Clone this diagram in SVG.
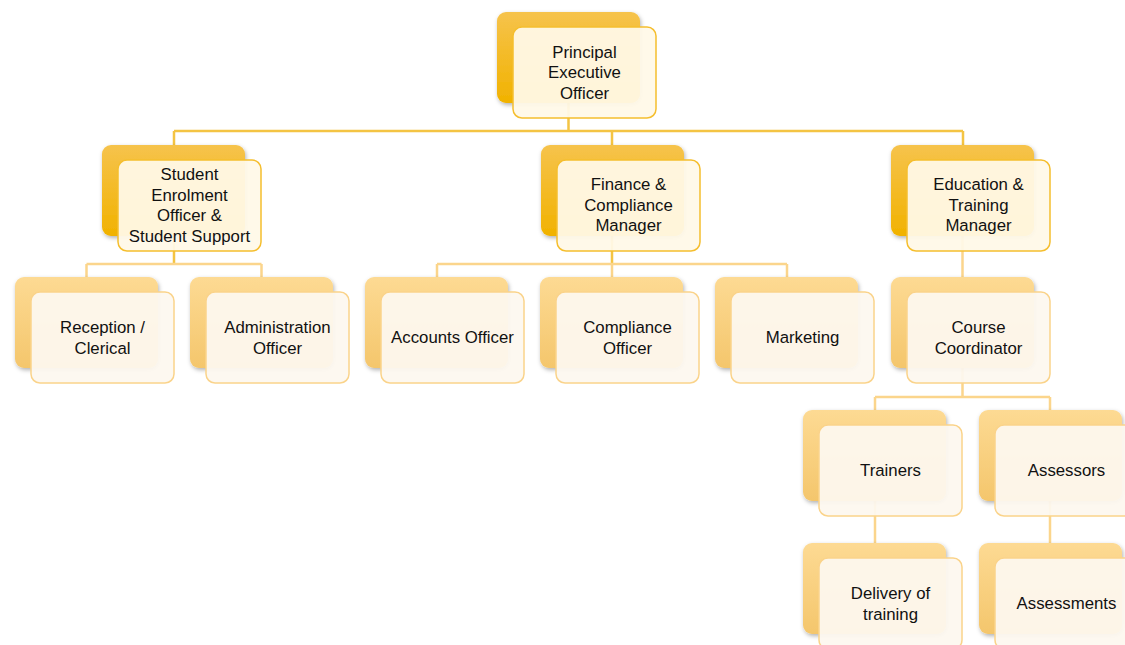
<svg xmlns="http://www.w3.org/2000/svg" width="1125" height="645" viewBox="0 0 1125 645">
<defs>
<linearGradient id="gA" x1="0" y1="0" x2="0" y2="1"><stop offset="0" stop-color="#F6C34C"/><stop offset="1" stop-color="#F1B200"/></linearGradient>
<linearGradient id="gB" x1="0" y1="0" x2="0" y2="1"><stop offset="0" stop-color="#FDDA93"/><stop offset="1" stop-color="#F4C66C"/></linearGradient>
<filter id="sh" x="-10%" y="-10%" width="130%" height="130%"><feDropShadow dx="1" dy="2" stdDeviation="2" flood-color="#000" flood-opacity="0.3"/></filter>
</defs>
<style>
.bA{fill:url(#gA);filter:url(#sh)}
.bB{fill:url(#gB);filter:url(#sh)}
.fA{fill:#FFF9E8;fill-opacity:0.94;stroke:#F5BE2E;stroke-width:1.5}
.fB{fill:#FDF8EF;fill-opacity:0.94;stroke:#FAD38A;stroke-width:1.5}
.cA{fill:none;stroke:#F4C443;stroke-width:2.5}
.cB{fill:none;stroke:#FBD58C;stroke-width:2.5}
text{font-family:"Liberation Sans",Arial,sans-serif;font-size:16.8px;fill:#111;text-anchor:middle}
</style>
<g id="connectors">
<path class="cA" d="M568.5,103 V131 M174,131 H963 M174,131 V145 M612,131 V145 M963,131 V145"/>
<path class="cA" d="M174,236 V264 M612,236 V264"/>
<path class="cB" d="M86.5,264 H261.5 M86.5,264 V277 M261.5,264 V277"/>
<path class="cB" d="M437,264 H787 M437,264 V277 M612,264 V277 M787,264 V277"/>
<path class="cB" d="M962.5,236 V277"/>
<path class="cB" d="M962.5,368 V397 M875,397 H1050 M875,397 V410 M1050,397 V410"/>
<path class="cB" d="M875,501 V543 M1050,501 V543"/>
</g>
<g id="peo"><rect class="bA" x="497" y="12" width="143" height="91" rx="9"/><rect class="fA" x="513" y="27" width="143" height="91" rx="9"/>
<text x="584.5" y="57.5">Principal</text><text x="584.5" y="78">Executive</text><text x="584.5" y="98.5">Officer</text></g>
<g id="student"><rect class="bA" x="102" y="145" width="143" height="91" rx="9"/><rect class="fA" x="118" y="160" width="143" height="91" rx="9"/>
<text x="189.5" y="180">Student</text><text x="189.5" y="200.5">Enrolment</text><text x="189.5" y="221">Officer &amp;</text><text x="189.5" y="241.5">Student Support</text></g>
<g id="finance"><rect class="bA" x="541" y="145" width="143" height="91" rx="9"/><rect class="fA" x="557" y="160" width="143" height="91" rx="9"/>
<text x="628.5" y="190">Finance &amp;</text><text x="628.5" y="210.5">Compliance</text><text x="628.5" y="231">Manager</text></g>
<g id="education"><rect class="bA" x="891" y="145" width="143" height="91" rx="9"/><rect class="fA" x="907" y="160" width="143" height="91" rx="9"/>
<text x="978.5" y="190">Education &amp;</text><text x="978.5" y="210.5">Training</text><text x="978.5" y="231">Manager</text></g>
<g id="reception"><rect class="bB" x="15" y="277" width="143" height="91" rx="9"/><rect class="fB" x="31" y="292" width="143" height="91" rx="9"/>
<text x="102.5" y="333">Reception /</text><text x="102.5" y="353.5">Clerical</text></g>
<g id="administration"><rect class="bB" x="190" y="277" width="143" height="91" rx="9"/><rect class="fB" x="206" y="292" width="143" height="91" rx="9"/>
<text x="277.5" y="333">Administration</text><text x="277.5" y="353.5">Officer</text></g>
<g id="accounts"><rect class="bB" x="365" y="277" width="143" height="91" rx="9"/><rect class="fB" x="381" y="292" width="143" height="91" rx="9"/>
<text x="452.5" y="343">Accounts Officer</text></g>
<g id="compliance"><rect class="bB" x="540" y="277" width="143" height="91" rx="9"/><rect class="fB" x="556" y="292" width="143" height="91" rx="9"/>
<text x="627.5" y="333">Compliance</text><text x="627.5" y="353.5">Officer</text></g>
<g id="marketing"><rect class="bB" x="715" y="277" width="143" height="91" rx="9"/><rect class="fB" x="731" y="292" width="143" height="91" rx="9"/>
<text x="802.5" y="343">Marketing</text></g>
<g id="course"><rect class="bB" x="891" y="277" width="143" height="91" rx="9"/><rect class="fB" x="907" y="292" width="143" height="91" rx="9"/>
<text x="978.5" y="333">Course</text><text x="978.5" y="353.5">Coordinator</text></g>
<g id="trainers"><rect class="bB" x="803" y="410" width="143" height="91" rx="9"/><rect class="fB" x="819" y="425" width="143" height="91" rx="9"/>
<text x="890.5" y="476">Trainers</text></g>
<g id="assessors"><rect class="bB" x="979" y="410" width="143" height="91" rx="9"/><rect class="fB" x="995" y="425" width="143" height="91" rx="9"/>
<text x="1066.5" y="476">Assessors</text></g>
<g id="delivery"><rect class="bB" x="803" y="543" width="143" height="91" rx="9"/><rect class="fB" x="819" y="558" width="143" height="91" rx="9"/>
<text x="890.5" y="599">Delivery of</text><text x="890.5" y="619.5">training</text></g>
<g id="assessments"><rect class="bB" x="979" y="543" width="143" height="91" rx="9"/><rect class="fB" x="995" y="558" width="143" height="91" rx="9"/>
<text x="1066.5" y="609">Assessments</text></g>
</svg>
